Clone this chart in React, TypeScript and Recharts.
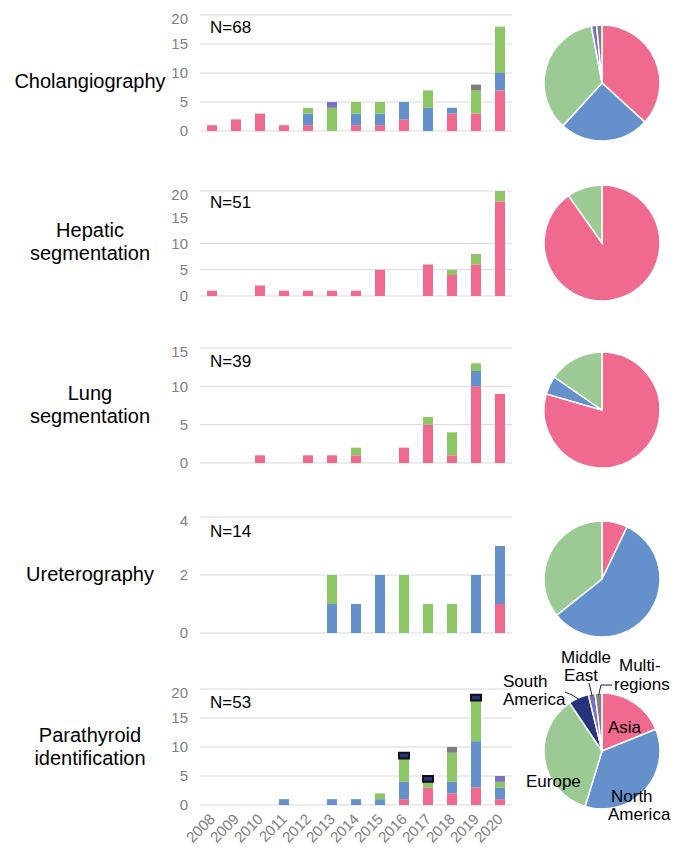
import React from "react";
import { BarChart, Bar, XAxis, YAxis, CartesianGrid, PieChart, Pie, Cell } from "recharts";

const years = ["2008", "2009", "2010", "2011", "2012", "2013", "2014", "2015", "2016", "2017", "2018", "2019", "2020"];
const regions = ["Asia", "North America", "Europe", "South America", "Middle East", "Multi-regions"];
const barColors = ["#f0698f", "#6490cb", "#8cc665", "#26337d", "#7b6fbf", "#7f7f7f"];
const pieColors = ["#f0698f", "#6490cb", "#9cca94", "#26337d", "#7b6fbf", "#7f7f7f"];

// Cholangiography, N=68
const cholAsia = [1, 2, 3, 1, 1, 0, 1, 1, 2, 0, 3, 3, 7];
const cholNA = [0, 0, 0, 0, 2, 0, 2, 2, 3, 4, 1, 0, 3];
const cholEU = [0, 0, 0, 0, 1, 4, 2, 2, 0, 3, 0, 4, 8];
const cholSA = [0, 0, 0, 0, 0, 0, 0, 0, 0, 0, 0, 0, 0];
const cholME = [0, 0, 0, 0, 0, 1, 0, 0, 0, 0, 0, 0, 0];
const cholMulti = [0, 0, 0, 0, 0, 0, 0, 0, 0, 0, 0, 1, 0];

// Hepatic segmentation, N=51
const hepAsia = [1, 0, 2, 1, 1, 1, 1, 5, 0, 6, 4, 6, 18];
const hepNA = [0, 0, 0, 0, 0, 0, 0, 0, 0, 0, 0, 0, 0];
const hepEU = [0, 0, 0, 0, 0, 0, 0, 0, 0, 0, 1, 2, 2];
const hepSA = [0, 0, 0, 0, 0, 0, 0, 0, 0, 0, 0, 0, 0];
const hepME = [0, 0, 0, 0, 0, 0, 0, 0, 0, 0, 0, 0, 0];
const hepMulti = [0, 0, 0, 0, 0, 0, 0, 0, 0, 0, 0, 0, 0];

// Lung segmentation, N=39
const lungAsia = [0, 0, 1, 0, 1, 1, 1, 0, 2, 5, 1, 10, 9];
const lungNA = [0, 0, 0, 0, 0, 0, 0, 0, 0, 0, 0, 2, 0];
const lungEU = [0, 0, 0, 0, 0, 0, 1, 0, 0, 1, 3, 1, 0];
const lungSA = [0, 0, 0, 0, 0, 0, 0, 0, 0, 0, 0, 0, 0];
const lungME = [0, 0, 0, 0, 0, 0, 0, 0, 0, 0, 0, 0, 0];
const lungMulti = [0, 0, 0, 0, 0, 0, 0, 0, 0, 0, 0, 0, 0];

// Ureterography, N=14
const uretAsia = [0, 0, 0, 0, 0, 0, 0, 0, 0, 0, 0, 0, 1];
const uretNA = [0, 0, 0, 0, 0, 1, 1, 2, 0, 0, 0, 2, 2];
const uretEU = [0, 0, 0, 0, 0, 1, 0, 0, 2, 1, 1, 0, 0];
const uretSA = [0, 0, 0, 0, 0, 0, 0, 0, 0, 0, 0, 0, 0];
const uretME = [0, 0, 0, 0, 0, 0, 0, 0, 0, 0, 0, 0, 0];
const uretMulti = [0, 0, 0, 0, 0, 0, 0, 0, 0, 0, 0, 0, 0];

// Parathyroid identification, N=53
const paraAsia = [0, 0, 0, 0, 0, 0, 0, 0, 1, 3, 2, 3, 1];
const paraNA = [0, 0, 0, 1, 0, 1, 1, 1, 3, 0, 2, 8, 2];
const paraEU = [0, 0, 0, 0, 0, 0, 0, 1, 4, 1, 5, 7, 1];
const paraSA = [0, 0, 0, 0, 0, 0, 0, 0, 1, 1, 0, 1, 0];
const paraME = [0, 0, 0, 0, 0, 0, 0, 0, 0, 0, 0, 0, 1];
const paraMulti = [0, 0, 0, 0, 0, 0, 0, 0, 0, 0, 1, 0, 0];

const FONT = "'Liberation Sans', Arial, sans-serif";

function buildRows(series: number[][]) {
  return years.map((y, i) => {
    const row: any = { year: y };
    regions.forEach((r, k) => (row[r] = series[k][i]));
    return row;
  });
}

function buildPie(series: number[][]) {
  return regions
    .map((r, k) => ({ name: r, value: series[k].reduce((a, b) => a + b, 0), color: pieColors[k] }))
    .filter((d) => d.value > 0);
}

const panels = [
  { series: [cholAsia, cholNA, cholEU, cholSA, cholME, cholMulti], top: 15, h: 116, max: 20, ticks: [0, 5, 10, 15, 20], cy: 78 },
  { series: [hepAsia, hepNA, hepEU, hepSA, hepME, hepMulti], top: 191, h: 105, max: 20, ticks: [0, 5, 10, 15, 20], cy: 238 },
  { series: [lungAsia, lungNA, lungEU, lungSA, lungME, lungMulti], top: 348, h: 115, max: 15, ticks: [0, 5, 10, 15], cy: 405 },
  { series: [uretAsia, uretNA, uretEU, uretSA, uretME, uretMulti], top: 517, h: 116, max: 4, ticks: [0, 2, 4], cy: 574 },
  { series: [paraAsia, paraNA, paraEU, paraSA, paraME, paraMulti], top: 689, h: 116, max: 20, ticks: [0, 5, 10, 15, 20], cy: 746 },
];

const YearTick = (props: any) => {
  const { x, y, payload } = props;
  const tx = x + 4;
  const ty = y + 7;
  return (
    <text x={tx} y={ty} textAnchor="end" fill="#808080" fontSize={15} fontFamily={FONT} transform={`rotate(-45 ${tx} ${ty})`}>
      {payload.value}
    </text>
  );
};

// label positions for the last pie, relative to its centre
const pieLabels: Record<string, { lines: [number, number, string][]; lead?: [number, number][] }> = {
  "Asia": { lines: [[6, -18, "Asia"]] },
  "North America": { lines: [[9, 51, "North"], [6, 69, "America"]] },
  "Europe": { lines: [[-76, 36, "Europe"]] },
  "South America": { lines: [[-99, -64, "South"], [-99, -46, "America"]], lead: [[-37, -59], [-30, -56]] },
  "Middle East": { lines: [[-41, -88, "Middle"], [-38, -70, "East"]], lead: [[-13, -68]] },
  "Multi-regions": { lines: [[17, -80, "Multi-"], [12, -61, "regions"]], lead: [[10, -66], [-1, -66]] },
};

const renderPieLabel = (props: any) => {
  const { cx, cy, midAngle, outerRadius, name } = props;
  const spec = pieLabels[name];
  if (!spec) return null;
  const rad = (Math.PI / 180) * midAngle;
  const ex = cx + (outerRadius - 2) * Math.cos(-rad);
  const ey = cy + (outerRadius - 2) * Math.sin(-rad);
  return (
    <g>
      {spec.lead && (
        <polyline
          points={[...spec.lead.map(([dx, dy]) => `${cx + dx},${cy + dy}`), `${ex},${ey}`].join(" ")}
          fill="none"
          stroke="#222"
          strokeWidth={1}
        />
      )}
      {spec.lines.map(([dx, dy, t], i) => (
        <text key={i} x={cx + dx} y={cy + dy} fill="#000" fontSize={17} fontFamily={FONT} textAnchor="start">
          {t}
        </text>
      ))}
    </g>
  );
};

const rowLabels: [number, string][][] = [
  [[88, "Cholangiography"]],
  [[237, "Hepatic"], [260, "segmentation"]],
  [[400, "Lung"], [423, "segmentation"]],
  [[581, "Ureterography"]],
  [[742, "Parathyroid"], [765, "identification"]],
];
const nLabels: [number, string][] = [[33, "N=68"], [208, "N=51"], [367, "N=39"], [537, "N=14"], [708, "N=53"]];

export default function App() {
  return (
    <div style={{ position: "absolute", left: 0, top: 0, width: 689, height: 851, background: "#fff", fontFamily: FONT }}>
      {panels.map((p, idx) => {
        const last = idx === panels.length - 1;
        const xh = last ? 45 : 0;
        const mb = last ? 0 : 12;
        return (
          <div key={idx} style={{ position: "absolute", left: 160, top: p.top - 5 }}>
            <BarChart
              width={360}
              height={p.h + 5 + xh + mb}
              data={buildRows(p.series)}
              margin={{ top: 5, right: 8, bottom: mb, left: 0 }}
              barSize={10}
            >
              <CartesianGrid vertical={false} stroke="#d9d9d9" />
              <XAxis
                dataKey="year"
                hide={!last}
                height={xh}
                interval={0}
                tickLine={false}
                axisLine={false}
                tick={<YearTick />}
              />
              <YAxis
                type="number"
                domain={[0, p.max]}
                ticks={p.ticks}
                width={40}
                tickLine={false}
                axisLine={false}
                tickMargin={6}
                tick={{ fill: "#808080", fontSize: 15, fontFamily: FONT }}
              />
              {regions.map((r, k) => (
                <Bar
                  key={r}
                  dataKey={r}
                  stackId="a"
                  fill={barColors[k]}
                  stroke={r === "South America" ? "#111" : undefined}
                  strokeWidth={r === "South America" ? 2 : 0}
                  isAnimationActive={false}
                />
              ))}
            </BarChart>
          </div>
        );
      })}

      <div style={{ position: "absolute", left: 0, top: 0 }}>
        <PieChart width={689} height={851}>
          {panels.map((p, idx) => {
            const data = buildPie(p.series);
            return (
              <Pie
                key={idx}
                data={data}
                dataKey="value"
                nameKey="name"
                cx={597}
                cy={p.cy}
                outerRadius={58}
                startAngle={90}
                endAngle={-270}
                stroke="#fff"
                strokeWidth={1.5}
                labelLine={false}
                label={idx === panels.length - 1 ? renderPieLabel : false}
                isAnimationActive={false}
              >
                {data.map((d) => (
                  <Cell key={d.name} fill={d.color} />
                ))}
              </Pie>
            );
          })}
        </PieChart>
      </div>

      <svg width={689} height={851} style={{ position: "absolute", left: 0, top: 0, pointerEvents: "none" }}>
        {rowLabels.map((lines, i) =>
          lines.map(([y, t], j) => (
            <text key={`${i}-${j}`} x={90} y={y} textAnchor="middle" fontSize={20} fontFamily={FONT} fill="#000">
              {t}
            </text>
          ))
        )}
        {nLabels.map(([y, t]) => (
          <text key={t} x={210} y={y} fontSize={17} fontFamily={FONT} fill="#000">
            {t}
          </text>
        ))}
      </svg>
    </div>
  );
}
